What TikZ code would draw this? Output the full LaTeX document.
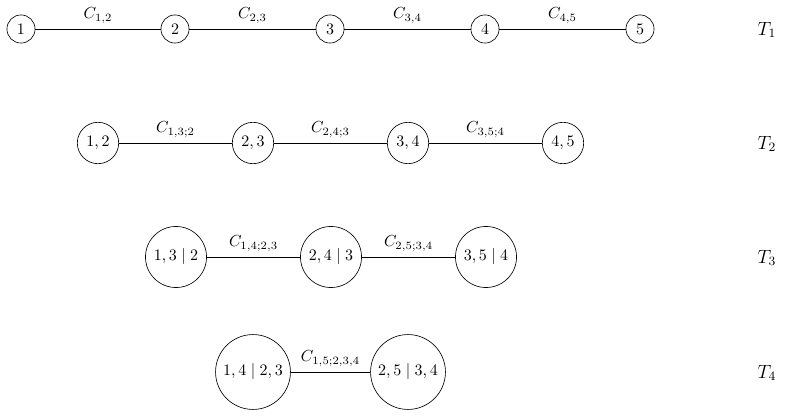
\documentclass[tikz,border=0pt]{standalone}
\begin{document}
\begin{tikzpicture}[x=0.625pt,y=-0.625pt,
  vert/.style={draw,circle,inner sep=0.3333em},
  edgelab/.style={above,midway},
  treelab/.style={font=\large}]
\useasboundingbox (0,0) rectangle (785,418);
% T1
\node[vert] (a1) at (21,29) {$1$};
\node[vert] (a2) at (175,29) {$2$};
\node[vert] (a3) at (330,29) {$3$};
\node[vert] (a4) at (485,29) {$4$};
\node[vert] (a5) at (640,29) {$5$};
\draw (a1) -- node[edgelab] {$C_{1,2}$} (a2);
\draw (a2) -- node[edgelab] {$C_{2,3}$} (a3);
\draw (a3) -- node[edgelab] {$C_{3,4}$} (a4);
\draw (a4) -- node[edgelab] {$C_{4,5}$} (a5);
\node[treelab] (t1) at (767,30) {$T_1$};
% T2
\node[vert] (b1) at (98,143) {$1,2$};
\node[vert] (b2) at (253,143) {$2,3$};
\node[vert] (b3) at (408,143) {$3,4$};
\node[vert] (b4) at (563,143) {$4,5$};
\draw (b1) -- node[edgelab] {$C_{1,3;2}$} (b2);
\draw (b2) -- node[edgelab] {$C_{2,4;3}$} (b3);
\draw (b3) -- node[edgelab] {$C_{3,5;4}$} (b4);
\node[treelab] (t2) at (767,144) {$T_2$};
% T3
\node[vert] (c1) at (176,257) {$1,3\mid 2$};
\node[vert] (c2) at (331,257) {$2,4\mid 3$};
\node[vert] (c3) at (486,257) {$3,5\mid 4$};
\draw (c1) -- node[edgelab] {$C_{1,4;2,3}$} (c2);
\draw (c2) -- node[edgelab] {$C_{2,5;3,4}$} (c3);
\node[treelab] (t3) at (767,258) {$T_3$};
% T4
\node[vert] (d1) at (253,372) {$1,4\mid 2,3$};
\node[vert] (d2) at (408,372) {$2,5\mid 3,4$};
\draw (d1) -- node[edgelab] {$C_{1,5;2,3,4}$} (d2);
\node[treelab] (t4) at (767,373) {$T_4$};
\end{tikzpicture}
\end{document}
